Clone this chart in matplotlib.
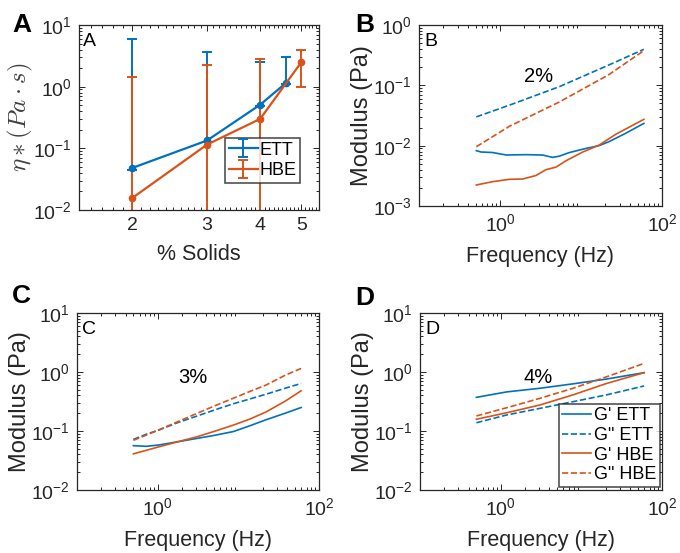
import numpy as np
import matplotlib
matplotlib.use("Agg")
import matplotlib.pyplot as plt
from matplotlib.ticker import FixedLocator, NullFormatter, FixedFormatter, LogLocator

plt.rcParams['font.family'] = ['Liberation Sans', 'DejaVu Sans']
plt.rcParams['mathtext.fontset'] = 'cm'

BLUE = '#0072BD'
ORANGE = '#D95319'
DARK = '#262626'

# ---------- Panel A data ----------
solids_ett = [2, 3, 4, 4.6]
eta_ett = [0.048, 0.134, 0.51, 1.15]
err_ett_low = [0.003, 0.008, 0.03, 0.06]
err_ett_high = [5.85, 3.47, 1.99, 1.85]

solids_hbe = [2, 3, 4, 5]
eta_hbe = [0.0156, 0.115, 0.30, 2.5]
err_hbe_low = [1.43, 2.1, 2.5, 1.52]
err_hbe_high = [1.43, 2.1, 2.5, 1.5]

# ---------- Panel B data (2%) ----------
fB_gp_ett = [0.51, 0.585, 0.81, 1.19, 2.1, 3.35, 4.45, 5.4, 7.1, 11.5, 16.7, 22, 35.5, 59.7]
B_gp_ett = [0.00826, 0.00785, 0.0077, 0.0070, 0.0071, 0.0070, 0.0064, 0.0067, 0.00765,
            0.0090, 0.0100, 0.0116, 0.0160, 0.0234]
fB_gp_hbe = [0.51, 0.81, 1.31, 1.9, 2.78, 3.69, 4.9, 6.5, 10.4, 16.7, 26.8, 59.7]
B_gp_hbe = [0.00223, 0.00253, 0.00277, 0.0028, 0.0032, 0.0040, 0.0044, 0.0056, 0.0078,
            0.0102, 0.0154, 0.0273]
fB_gpp = [0.51, 1.31, 5.4, 22, 59.7]
B_gpp_ett = [0.030, 0.047, 0.095, 0.217, 0.395]
B_gpp_hbe = [0.0096, 0.021, 0.053, 0.150, 0.376]

# ---------- Panel C data (3%) ----------
fC = [0.5, 0.72, 1.04, 1.8, 3.1, 5.2, 8.7, 14, 22, 38, 60]
C_gp_ett = [0.0564, 0.055, 0.058, 0.066, 0.075, 0.085, 0.098, 0.123, 0.155, 0.20, 0.25]
C_gpp_ett = [0.072, 0.088, 0.104, 0.14, 0.18, 0.23, 0.29, 0.35, 0.42, 0.53, 0.64]
C_gp_hbe = [0.041, 0.047, 0.054, 0.066, 0.080, 0.100, 0.126, 0.160, 0.21, 0.32, 0.48]
C_gpp_hbe = [0.0695, 0.085, 0.105, 0.145, 0.20, 0.27, 0.36, 0.47, 0.60, 0.88, 1.15]

# ---------- Panel D data (4%) ----------
fD = [0.5, 1.19, 3.07, 7.9, 20.6, 60]
D_gp_ett = [0.372, 0.46, 0.53, 0.63, 0.76, 0.975]
D_gpp_ett = [0.138, 0.187, 0.242, 0.314, 0.41, 0.58]
D_gp_hbe = [0.158, 0.204, 0.276, 0.41, 0.64, 0.975]
D_gpp_hbe = [0.18, 0.248, 0.358, 0.53, 0.83, 1.40]

W, H = 680, 553
fig = plt.figure(figsize=(W / 100, H / 100), dpi=100)


def ax_at(l, t, r, b):
    return fig.add_axes([l / W, 1 - b / H, (r - l) / W, (b - t) / H])


TICK_FS = 14
XLABEL_FS = 15.5
YLABEL_FS = 17


def style(ax):
    for s in ax.spines.values():
        s.set_color(DARK)
        s.set_linewidth(0.9)
    ax.tick_params(which='both', direction='in', top=True, right=True,
                   colors=DARK, labelsize=TICK_FS, width=0.7)
    ax.tick_params(which='major', length=4, pad=5)
    ax.tick_params(which='minor', length=2)


def freq_axes(ax, ylim):
    ax.set_xscale('log')
    ax.set_yscale('log')
    ax.set_xlim(0.1, 100)
    ax.set_ylim(*ylim)
    ax.xaxis.set_major_locator(FixedLocator([1, 100]))
    ax.xaxis.set_minor_locator(LogLocator(base=10, subs=np.arange(2, 10), numticks=20))
    ax.xaxis.set_minor_formatter(NullFormatter())
    ax.yaxis.set_major_locator(LogLocator(base=10, numticks=10))
    ax.yaxis.set_minor_locator(LogLocator(base=10, subs=np.arange(2, 10), numticks=20))
    ax.yaxis.set_minor_formatter(NullFormatter())
    ax.set_xlabel('Frequency (Hz)', fontsize=XLABEL_FS, color=DARK, labelpad=8)
    ax.set_ylabel('Modulus (Pa)', fontsize=YLABEL_FS, color=DARK, labelpad=0)
    style(ax)


# ---------- Panel A ----------
axA = ax_at(79, 25, 319, 210)
axA.set_xscale('log')
axA.set_yscale('log')
axA.errorbar(solids_ett, eta_ett, yerr=[err_ett_low, err_ett_high], color=BLUE,
             fmt='-', lw=1.6, capsize=3.5, elinewidth=1.4, capthick=1.4, label='ETT')
axA.errorbar(solids_hbe, eta_hbe, yerr=[err_hbe_low, err_hbe_high], color=ORANGE,
             fmt='-', lw=1.6, capsize=3.5, elinewidth=1.4, capthick=1.4, label='HBE')
axA.plot(solids_ett, eta_ett, ls='none', marker='o', ms=4.5, color=BLUE)
axA.plot(solids_hbe, eta_hbe, ls='none', marker='o', ms=4.5, color=ORANGE)
axA.set_xlim(1.5, 5.5)
axA.set_ylim(1e-2, 10)
axA.xaxis.set_major_locator(FixedLocator([2, 3, 4, 5]))
axA.xaxis.set_major_formatter(FixedFormatter(['2', '3', '4', '5']))
axA.xaxis.set_minor_locator(FixedLocator([v for v in np.arange(1.6, 5.5, 0.1)
                                          if abs(v - round(v)) > 0.01]))
axA.xaxis.set_minor_formatter(NullFormatter())
axA.yaxis.set_major_locator(LogLocator(base=10, numticks=10))
axA.yaxis.set_minor_locator(LogLocator(base=10, subs=np.arange(2, 10), numticks=20))
axA.yaxis.set_minor_formatter(NullFormatter())
axA.set_xlabel('% Solids', fontsize=XLABEL_FS, color=DARK, labelpad=7)
axA.set_ylabel(r'$\eta*(Pa\cdot s)$', fontsize=18, color='#404040', labelpad=-1)
style(axA)
legA = axA.legend(loc='lower right', bbox_to_anchor=(0.921, 0.146), borderaxespad=0,
                  fontsize=13, frameon=True, fancybox=False, handlelength=1.6,
                  handletextpad=0.1, labelspacing=0.2, borderpad=0.2)
legA.get_frame().set_edgecolor(DARK)
legA.get_frame().set_linewidth(1.2)
axA.text(0.017, 0.955, 'A', transform=axA.transAxes, ha='left', va='top', fontsize=14, color='black')

# ---------- Panel B ----------
axB = ax_at(419, 25, 662, 206)
axB.plot(fB_gp_ett, B_gp_ett, color=BLUE, lw=1.2, ls='-')
axB.plot(fB_gpp, B_gpp_ett, color=BLUE, lw=1.2, ls='--')
axB.plot(fB_gp_hbe, B_gp_hbe, color=ORANGE, lw=1.2, ls='-')
axB.plot(fB_gpp, B_gpp_hbe, color=ORANGE, lw=1.2, ls='--')
freq_axes(axB, (1e-3, 1))
axB.text(0.49, 0.718, '2%', transform=axB.transAxes, ha='center', va='center', fontsize=14.5)
axB.text(0.022, 0.955, 'B', transform=axB.transAxes, ha='left', va='top', fontsize=14)

# ---------- Panel C ----------
axC = ax_at(77, 313, 319, 490)
axC.plot(fC, C_gp_ett, color=BLUE, lw=1.2, ls='-')
axC.plot(fC, C_gpp_ett, color=BLUE, lw=1.2, ls='--')
axC.plot(fC, C_gp_hbe, color=ORANGE, lw=1.2, ls='-')
axC.plot(fC, C_gpp_hbe, color=ORANGE, lw=1.2, ls='--')
freq_axes(axC, (1e-2, 10))
axC.text(0.479, 0.633, '3%', transform=axC.transAxes, ha='center', va='center', fontsize=14.5)
axC.text(0.022, 0.955, 'C', transform=axC.transAxes, ha='left', va='top', fontsize=14)

# ---------- Panel D ----------
axD = ax_at(420, 313, 662, 490)
axD.plot(fD, D_gp_ett, color=BLUE, lw=1.2, ls='-', label="G' ETT")
axD.plot(fD, D_gpp_ett, color=BLUE, lw=1.2, ls='--', label='G" ETT')
axD.plot(fD, D_gp_hbe, color=ORANGE, lw=1.2, ls='-', label="G' HBE")
axD.plot(fD, D_gpp_hbe, color=ORANGE, lw=1.2, ls='--', label='G" HBE')
freq_axes(axD, (1e-2, 10))
axD.text(0.488, 0.638, '4%', transform=axD.transAxes, ha='center', va='center', fontsize=14.5)
axD.text(0.022, 0.955, 'D', transform=axD.transAxes, ha='left', va='top', fontsize=14)
legD = axD.legend(loc='lower right', bbox_to_anchor=(0.992, 0.017), borderaxespad=0,
                  fontsize=13, frameon=True, fancybox=False, handlelength=1.6,
                  handletextpad=0.15, labelspacing=0.15, borderpad=0.2)
legD.get_frame().set_edgecolor(DARK)
legD.get_frame().set_linewidth(1.2)

# ---------- Panel letters ----------
for letter, x, y in [('A', 12, 32), ('B', 355, 32), ('C', 12, 303), ('D', 355, 305)]:
    fig.text(x / W, 1 - y / H, letter, fontsize=19, fontweight='bold',
             ha='left', va='baseline', color='black')

fig.savefig('out.png', dpi=100)
